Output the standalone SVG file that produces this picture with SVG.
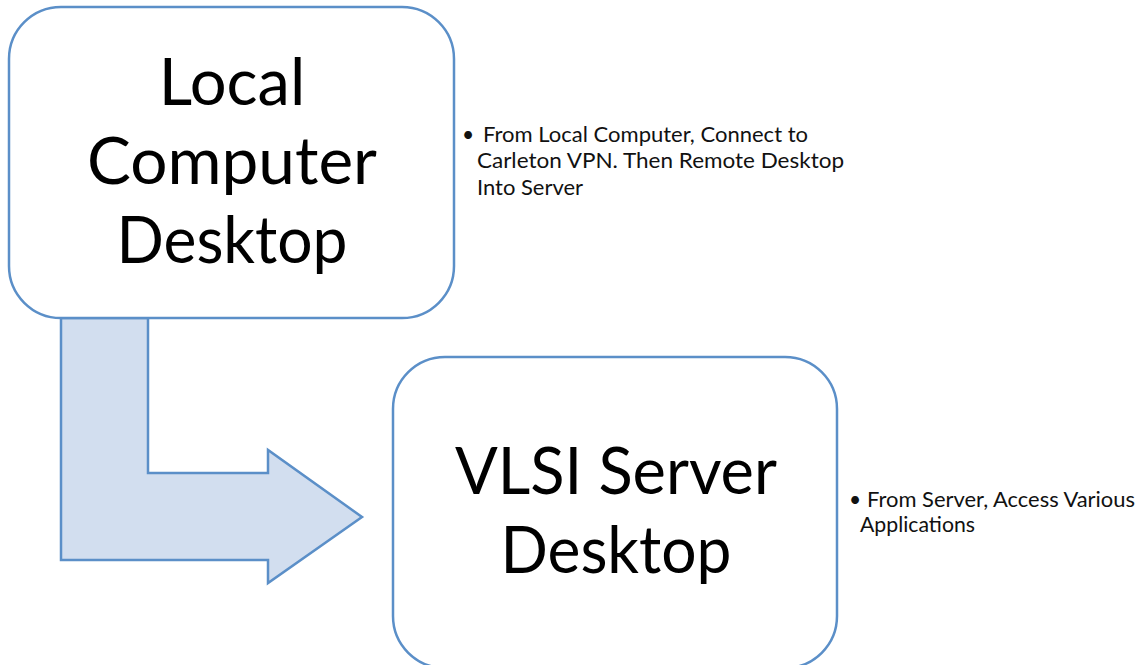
<svg xmlns="http://www.w3.org/2000/svg" width="1141" height="665" viewBox="0 0 1141 665">
<style>
.box{fill:#ffffff;stroke:#5B8FC8;stroke-width:2.5}
.arrow{fill:#D2DEEF;stroke:#5B8FC8;stroke-width:2.5;stroke-linejoin:miter}
.big{font-family:Lato,"Liberation Sans",sans-serif;font-size:65px;fill:#000000;text-anchor:middle}
.small{font-family:Lato,"Liberation Sans",sans-serif;font-size:21px;fill:#111111}
.bullet{font-family:Lato,"Liberation Sans",sans-serif;font-size:21px;fill:#111111;text-anchor:middle}
</style>
<rect width="1141" height="665" fill="#ffffff"/>
<g id="connectors">
<polygon class="arrow" points="61,318 148,318 148,473 268,473 268,450 362,517 268,583 268,560 61,560"/>
</g>
<g id="node-local">
<rect class="box" x="9" y="7" width="445" height="311" rx="52" ry="52"/>
<text class="big" x="232" y="105">Local</text>
<text class="big" x="232" y="184" textLength="290" lengthAdjust="spacingAndGlyphs">Computer</text>
<text class="big" x="232" y="263" textLength="231" lengthAdjust="spacingAndGlyphs">Desktop</text>
</g>
<g id="node-server">
<rect class="box" x="393" y="357" width="444" height="311" rx="52" ry="52"/>
<text class="big" x="616" y="494" textLength="322" lengthAdjust="spacingAndGlyphs">VLSI Server</text>
<text class="big" x="616" y="573" textLength="231" lengthAdjust="spacingAndGlyphs">Desktop</text>
</g>
<g id="note-local">
<text class="bullet" x="468" y="142">•</text>
<text class="small" x="483" y="142" textLength="325" lengthAdjust="spacingAndGlyphs">From Local Computer, Connect to</text>
<text class="small" x="477" y="168" textLength="367" lengthAdjust="spacingAndGlyphs">Carleton VPN. Then Remote Desktop</text>
<text class="small" x="477" y="195" textLength="106" lengthAdjust="spacingAndGlyphs">Into Server</text>
</g>
<g id="note-server">
<text class="bullet" x="855" y="507">•</text>
<text class="small" x="867" y="507" textLength="268" lengthAdjust="spacingAndGlyphs">From Server, Access Various</text>
<text class="small" x="860" y="532" textLength="115" lengthAdjust="spacingAndGlyphs">Applications</text>
</g>
</svg>
